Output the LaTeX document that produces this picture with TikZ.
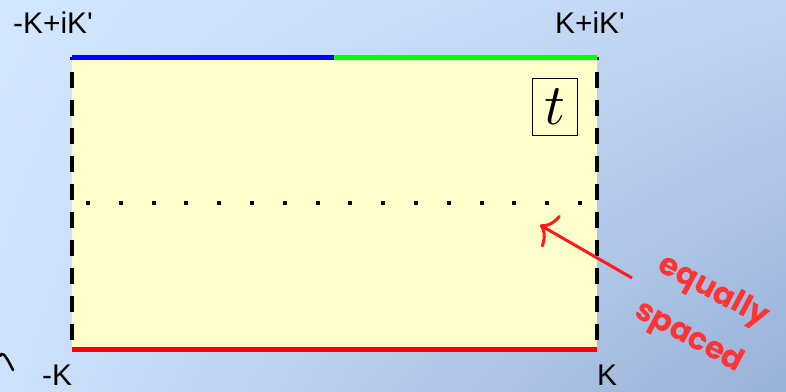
\documentclass[tikz,border=0pt]{standalone}
\usepackage{fontspec}
\setmainfont[Ligatures=TeXOff]{Liberation Sans}
\newfontfamily\cfont{Poppins}
\usetikzlibrary{arrows.meta,shadings}
\definecolor{fillyel}{RGB}{255,255,204}
\definecolor{txtred}{RGB}{255,51,51}
\definecolor{arrred}{RGB}{255,25,25}
\definecolor{bgUL}{RGB}{210,232,255}
\definecolor{bgUR}{RGB}{190,212,242}
\definecolor{bgLL}{RGB}{205,226,252}
\definecolor{bgLR}{RGB}{152,177,214}
\begin{document}
\begin{tikzpicture}[x=1bp,y=-1bp,
  sideedge/.style={line width=4.5bp, dash pattern=on 16.7bp off 11.3bp, dash phase=13.3bp},
  dotline/.style={line width=4bp, dash pattern=on 4bp off 28.8bp},
  coloredge/.style={line width=5bp},
  lbl/.style={font=\fontsize{30}{36}\selectfont, inner sep=0pt, anchor=base west}]
\useasboundingbox (0,0) rectangle (786,391);
\shade[upper left=bgUL, upper right=bgUR, lower left=bgLL, lower right=bgLR] (0,0) rectangle (786,391);
\coordinate (TL) at (72,57);
\coordinate (TM) at (334,57);
\coordinate (TR) at (597,57);
\coordinate (BL) at (72,349);
\coordinate (BR) at (597,349);
\coordinate (DL) at (86,203);
\coordinate (DR) at (584,203);
\fill[fillyel] (TL) rectangle (BR);
\draw[dotline] (DL) -- (DR);
\draw[sideedge] (TL) -- (BL);
\draw[sideedge] (TR) -- (BR);
\draw[coloredge, blue] (TL) -- (TM);
\draw[coloredge, green] (TM) -- (TR);
\draw[coloredge, red] (BL) -- (BR);
\node[lbl] (lTL) at (13,33) {-K+iK'};
\node[lbl] (lTR) at (555,33) {K+iK'};
\node[lbl] (lBL) at (42,385) {-K};
\node[lbl] (lBR) at (597,385) {K};
\node[draw, line width=0.8bp, minimum width=45bp, minimum height=57bp, inner sep=0pt] (tbox) at (554.5,106.5) {\scalebox{5.8}{$t$}};
\coordinate (arrS) at (632,278);
\coordinate (arrE) at (540,225);
\draw[arrred, line width=3bp, -{To[length=14bp,width=37bp]}] (arrS) -- (arrE);
\node[text=txtred, rotate=-28, align=center, font=\cfont\bfseries\fontsize{31}{52}\selectfont] (eq) at (701,315) {equally\\spaced};
\draw[line width=2.5bp, line cap=round] (0,356) .. controls (2,352) and (4,352) .. (13,370);
\end{tikzpicture}
\end{document}
